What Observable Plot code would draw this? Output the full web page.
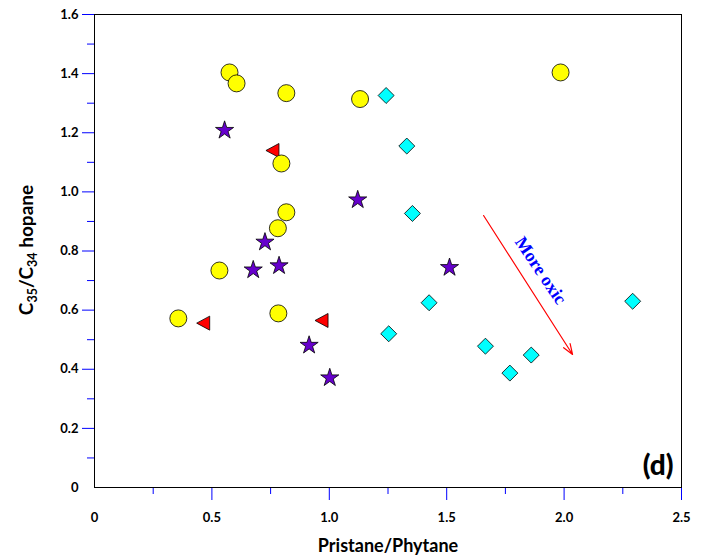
<!DOCTYPE html>
<html>
<head>
<meta charset="utf-8">
<script src="https://cdn.jsdelivr.net/npm/d3@7"></script>
<script src="https://cdn.jsdelivr.net/npm/@observablehq/plot@0.6"></script>
<style>
  body { margin: 0; background: #fff; }
  svg { display: block; }
</style>
</head>
<body>
<div id="chart"></div>
<script>
// Yellow circles
const circleX = [0.357, 0.532, 0.575, 0.605, 0.781, 0.783, 0.796, 0.817, 0.817, 1.131, 1.985];
const circleY = [0.572, 0.734, 1.404, 1.367, 0.877, 0.589, 1.096, 1.334, 0.931, 1.314, 1.404];
// Purple stars
const starX = [0.554, 0.676, 0.726, 0.786, 0.914, 1.002, 1.121, 1.512];
const starY = [1.208, 0.736, 0.830, 0.750, 0.481, 0.371, 0.973, 0.744];
// Red left-pointing triangles
const triX = [0.760, 0.465, 0.969];
const triY = [1.140, 0.556, 0.565];
// Cyan diamonds
const diaX = [1.242, 1.330, 1.354, 1.253, 1.425, 1.665, 1.769, 1.860, 2.292];
const diaY = [1.326, 1.155, 0.927, 0.520, 0.625, 0.478, 0.387, 0.448, 0.630];
// Annotation arrow ("More oxic")
const arrowFrom = [1.657, 0.920];
const arrowTo = [2.036, 0.450];
const noteText = "More oxic";
const notePos = [1.900, 0.734];
// Ticks
const xMajor = [0, 0.5, 1.0, 1.5, 2.0, 2.5];
const xMinor = [0.25, 0.75, 1.25, 1.75, 2.25];
const yMajor = [0, 0.2, 0.4, 0.6, 0.8, 1.0, 1.2, 1.4, 1.6];
const yMinor = [0.1, 0.3, 0.5, 0.7, 0.9, 1.1, 1.3, 1.5];
const xTitle = "Pristane/Phytane";
const panelLabel = "(d)";

const toPts = (xs, ys) => xs.map((x, i) => ({x, y: ys[i]}));
const fmt = d => d === 0 ? "0" : d.toFixed(1);

const triangleLeft = {
  draw(context, size) {
    const r = Math.sqrt(size / Math.PI);
    context.moveTo(-r, 0);
    context.lineTo(r * 0.86, -r);
    context.lineTo(r * 0.86, r);
    context.closePath();
  }
};

const font = "Lato, 'Open Sans', sans-serif";

const chart = Plot.plot({
  width: 709,
  height: 560,
  marginLeft: 94,
  marginRight: 28,
  marginTop: 14,
  marginBottom: 73,
  x: {domain: [0, 2.5]},
  y: {domain: [0, 1.6]},
  style: {fontFamily: font, fontSize: "13px", fontWeight: "bold", background: "white", color: "black"},
  marks: [
    // tick lines
    Plot.axisX({ticks: xMajor.filter(d => d > 0), tickSize: 13, stroke: "blue", fill: "none", label: null}),
    Plot.axisX({ticks: xMinor, tickSize: 7, stroke: "blue", fill: "none", label: null}),
    Plot.axisY({ticks: yMajor.filter(d => d > 0), tickSize: 12, stroke: "blue", fill: "none", label: null}),
    Plot.axisY({ticks: yMinor, tickSize: 7, stroke: "blue", fill: "none", label: null}),
    // tick labels
    Plot.axisX({ticks: xMajor, tickSize: 0, tickPadding: 25, tickFormat: fmt, fill: "black", label: null, fontSize: 13, fontWeight: "bold"}),
    Plot.axisY({ticks: yMajor, tickSize: 0, tickPadding: 16, tickFormat: fmt, fill: "black", label: null, fontSize: 13, fontWeight: "bold"}),
    Plot.frame({stroke: "black", strokeWidth: 1}),
    // annotation
    Plot.arrow([{x1: arrowFrom[0], y1: arrowFrom[1], x2: arrowTo[0], y2: arrowTo[1]}],
      {x1: "x1", y1: "y1", x2: "x2", y2: "y2", stroke: "red", strokeWidth: 1.2, headLength: 14, headAngle: 40}),
    Plot.text([{x: notePos[0], y: notePos[1], t: noteText}],
      {x: "x", y: "y", text: "t", rotate: 56, fill: "blue", fontFamily: "'Liberation Serif', 'DejaVu Serif', serif", fontWeight: "bold", fontSize: 18}),
    // data
    Plot.dot(toPts(triX, triY), {x: "x", y: "y", symbol: triangleLeft, r: 7, fill: "red", stroke: "black", strokeWidth: 0.8}),
    Plot.dot(toPts(circleX, circleY), {x: "x", y: "y", symbol: "circle", r: 8.5, fill: "#ffff00", stroke: "black", strokeWidth: 0.8}),
    Plot.dot(toPts(starX, starY), {x: "x", y: "y", symbol: "star", r: 5.7, fill: "#6600cc", stroke: "black", strokeWidth: 0.8}),
    Plot.dot(toPts(diaX, diaY), {x: "x", y: "y", symbol: "diamond2", r: 7.2, fill: "#00ffff", stroke: "black", strokeWidth: 0.8}),
    // labels
    Plot.text([panelLabel], {frameAnchor: "bottom-right", dx: -8, dy: -13, lineAnchor: "bottom", textAnchor: "end", fontSize: 28, fontWeight: "900", fontFamily: font}),
    Plot.text([xTitle], {frameAnchor: "bottom", dy: 64, lineAnchor: "bottom", fontSize: 18, fontWeight: "bold", fontFamily: font})
  ]
});

document.getElementById("chart").appendChild(chart);

// Y-axis title with subscripts
const svg = d3.select(chart);
const yt = svg.append("text")
  .attr("transform", "translate(33,250) rotate(-90)")
  .attr("text-anchor", "middle")
  .attr("font-family", font)
  .attr("font-weight", "bold")
  .attr("font-size", 19)
  .attr("fill", "black");
yt.append("tspan").text("C");
yt.append("tspan").attr("font-size", 12.5).attr("dy", 4).text("35");
yt.append("tspan").attr("dy", -4).text("/C");
yt.append("tspan").attr("font-size", 12.5).attr("dy", 4).text("34");
yt.append("tspan").attr("dy", -4).text(" hopane");
</script>
</body>
</html>
